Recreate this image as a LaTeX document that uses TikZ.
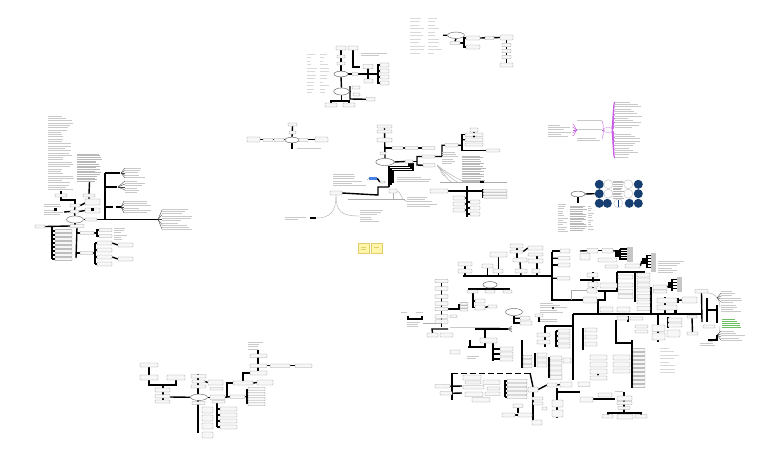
\documentclass[tikz,border=0pt]{standalone}
\usetikzlibrary{fit,shapes.geometric}
\pgfdeclarelayer{back}
\pgfdeclarelayer{lines}
\pgfsetlayers{back,lines,main}
\definecolor{pk}{RGB}{200,90,230}
\definecolor{nv}{RGB}{22,62,112}
\definecolor{bl}{RGB}{70,130,230}
\definecolor{yl}{RGB}{255,246,170}
\definecolor{yd}{RGB}{225,205,110}
\definecolor{gr}{RGB}{110,190,100}
\tikzset{
  bx/.style={draw=gray!75, fill=gray!6, line width=0.35pt, rounded corners=0.6pt, inner sep=0pt},
  el/.style={ellipse, draw=gray!80!black, fill=white, line width=0.45pt, inner sep=0pt},
  ln/.style={line width=1.4pt, black},
  tn/.style={line width=0.4pt, gray!65},
  fn/.style={line width=0.35pt, black!75},
  pkl/.style={line width=0.45pt, pk},
  cc/.style={circle, inner sep=0pt, minimum size=9pt},
}
\pgfmathsetseed{7}
\newcommand\mkbox[5]{\node[bx,fit={(#2,#3)(#4,#5)}] (#1) {};}
\newcommand\mklines[8]{\node[inner sep=0pt,fit={(#2,#3)(#4,#5)},path picture={\foreach \i in {1,#7,...,90}{\draw[#6,line width=0.5pt] ([yshift=-\i pt]path picture bounding box.north west) -- ++({(#4-#2)*(#8+(1-#8)*rnd)},0);}}] (#1) {};}
\newcommand\mktext[5]{\mklines{#1}{#2}{#3}{#4}{#5}{gray!55}{2.7}{0.7}}
\newcommand\mklight[5]{\mklines{#1}{#2}{#3}{#4}{#5}{gray!42}{3.3}{0.45}}
\newcommand\mkfaint[5]{\mklines{#1}{#2}{#3}{#4}{#5}{gray!30}{4.5}{0.3}}
\newcommand\mkell[5]{\node[el,fit={(#2,#3)(#4,#5)}] (#1) {};}
\newcommand\mkc[6]{\node[inner sep=0pt,#6,fit={(#2,#3)(#4,#5)}] (#1) {};}
\begin{document}
\begin{tikzpicture}[x=1pt,y=-1pt]
\begin{pgfonlayer}{back}
\fill[white] (0,0) rectangle (768,456);
\end{pgfonlayer}
\useasboundingbox (0,0) rectangle (768,456);

% ================= Cluster A (left) =================
\mklight{a1}{48}{115}{74}{191}
\mktext{a2}{77}{153}{102}{182}
\mkbox{a3}{55}{194}{67}{197}
\mkbox{a4}{83}{194}{95}{197}
\mkell{a0}{69}{217}{81}{222}
\mkbox{a5}{70}{204}{80}{207}
\mkbox{a6}{70}{210}{79}{213}
\mklight{a7}{44}{203}{64}{207}
\mklight{a8}{44}{209}{64}{215}
\mkbox{a9}{85}{199}{100}{205}
\mkbox{a10}{85}{208}{100}{213}
\mkbox{a11}{85}{218}{97}{221}
\mklight{a12}{162}{208}{193}{231}
\mklight{a13}{125}{167}{151}{178}
\mklight{a14}{125}{180}{150}{192}
\mklight{a15}{124}{200}{153}{214}
\mkbox{a16}{35}{225}{45}{228}
\mkbox{a28}{70}{224.5}{84}{227.5}
\foreach \k/\yy in {1/231,2/235,3/239,4/243,5/247,6/251,7/255,8/259}{\mkbox{a17-\k}{55}{\yy-1.6}{72}{\yy+1.6}}
\mkbox{a19}{80}{231.5}{94}{234.5}
\mkbox{a20}{99}{228.5}{112}{231.5}
\mkbox{a21}{99}{234.5}{112}{237.5}
\mklight{a22}{114}{227}{128}{232}
\mklight{a23}{114}{234}{128}{239}
\mkbox{a24}{80}{251.5}{93}{254.5}
\foreach \k/\yy in {1/243,2/250,3/257,4/264}{\mkbox{a25-\k}{97}{\yy-2}{112}{\yy+2}}
\mkbox{a26}{118}{243}{133}{247}
\mkbox{a27}{118}{257}{133}{261}
\fill (54,208) rectangle (56.5,210.5);
\fill (91,208) rectangle (93.5,210.5);
\begin{pgfonlayer}{lines}
\draw[ln] (a1.south) -- (a3.north);
\draw[ln] (a2.south) -- (a4.north);
\draw[ln] (a3.south) -- ++(0,3) -| (a5.north);
\draw[ln] (a4.south) -- ++(0,4) -- (a5.east);
\draw[ln] (a5.south) -- (a6.north);
\draw[ln] (a6.south) -- (a0.north);
\draw[ln] (a8.east) -- (a6.west);
\draw[ln] (a6.east) -- (a10.west);
\draw[ln] (a0.east) -- (a11.west);
\draw[ln] (a11.east) -- (158,219.5);
\foreach \yy in {210,214.5,219.5,224.5,229} \draw[fn] (158,219.5) -- (162,\yy);
\draw[ln] (105,173) -- (105,219.5);
\draw[ln] (105,173) -- (120,173);
\draw[ln] (105,187) -- (117,187);
\draw[ln] (105,207) -- (113,207);
\draw[ln] (116,207) -- (121,207);
\foreach \yy in {168,170.5,173,175.5,178} \draw[fn] (121,173) -- (125,\yy);
\foreach \yy in {181,184,187,190} \draw[fn] (118,187) -- (125,\yy);
\foreach \yy in {201,204,207,210,213} \draw[fn] (121,207) -- (124,\yy);
\draw[ln] (a0.south) -- (75,226);
\draw[ln] (a16.east) -- (a28.west);
\draw[ln] (52,226) -- (52,259);
\foreach \yy in {231,235,239,243,247,251,255,259} \draw[ln] (52,\yy) -- (55,\yy);
\draw[ln] (a28.south) -- (76,258);
\draw[ln] (76,233) -- (a19.west);
\draw[ln] (a19.east) -- (97,233);
\draw[ln] (99,230) -| (97,236) -- (99,236);
\draw[ln] (76,253) -- (a24.west);
\draw[ln] (a24.east) -- (95,253);
\draw[ln] (95,243) -- (95,264);
\foreach \yy in {243,250,257,264} \draw[ln] (95,\yy) -- (97,\yy);
\draw[ln] (a25-1.east) -- (a26.west);
\draw[ln] (a25-3.east) -- (a27.west);
\end{pgfonlayer}

% ================= Cluster B (top centre) =================
\mkbox{b1}{336}{46}{346}{50}
\mkbox{b2}{348}{46}{358}{50}
\mkell{b0}{336}{72}{346}{76}
\mkbox{b3}{337}{55}{345}{58}
\mkbox{b4}{337}{62}{345}{65}
\mklight{b5}{361}{52}{392}{56}
\mkfaint{b6}{307}{53}{318}{93}
\mkfaint{b7}{320}{53}{330}{93}
\mkbox{b8}{352}{72.5}{358}{75.5}
\mkbox{b9}{363}{64.5}{373}{68.5}
\mkbox{b10}{364}{79}{373}{83}
\foreach \k/\yy in {1/65,2/71,3/77,4/83}{\mkbox{b11-\k}{380}{\yy-2}{389}{\yy+2}}
\mkell{b12}{336}{89}{347}{94}
\mkbox{b13}{352}{86}{360}{89}
\mkbox{b14}{353}{93}{360}{96}
\mkbox{b15}{366}{97.5}{375}{101}
\mkbox{b16}{325}{103}{337}{107}
\mkbox{b17}{343}{103}{355}{107}
\begin{pgfonlayer}{lines}
\draw[ln] (b1.south) -- (b0.north);
\draw[ln] (b2.south) |- (360,67);
\draw[ln] (b0.east) -- (368,74) -- (378,74);
\draw[ln] (368,67) -- (368,82);
\draw[ln] (378,64) -- (378,84);
\foreach \yy in {65,71,77,83} \draw[ln] (378,\yy) -- (380,\yy);
\draw[ln] (b0.south) -- (b12.north);
\draw[ln] (b12.east) -- (350,91.5);
\draw[ln] (350,86) -- (350,99) -- (b15.west);
\draw[ln] (b12.south) -- (341.5,101);
\draw[ln] (331,103) |- (349,101) -- (349,103);
\end{pgfonlayer}

% ================= Cluster C (top right) =================
\mkfaint{c1}{410}{17}{426}{53}
\mkfaint{c2}{428}{17}{442}{53}
\mkell{c0}{450}{33}{462}{37.5}
\mkbox{c3}{450}{41.5}{460}{44.5}
\mkbox{c4}{466}{36}{480}{40}
\mkbox{c5}{466}{45}{480}{49}
\mkbox{c6}{485}{36.5}{494}{39.5}
\mkbox{c7}{500}{35}{513}{40}
\foreach \k/\yy in {1/45,2/51,3/57}{\mkbox{c8-\k}{502}{\yy-1.8}{511}{\yy+1.8}}
\mkbox{c9}{500}{63}{513}{67}
\begin{pgfonlayer}{lines}
\draw[ln] (443,35.2) -- (c0.west);
\draw[ln] (c0.south) -- (c3.north);
\draw[ln] (c3.east) -- (464,43);
\draw[ln] (c4.west) -| (464,47) -- (c5.west);
\draw[ln] (c4.east) -- (c7.west);
\draw[ln] (c7.south) -- (c9.north);
\end{pgfonlayer}

% ================= Cluster D =================
\mkbox{d1}{288}{123}{297}{126}
\mkbox{d2}{289}{131}{296}{134}
\mkbox{d3}{247}{137}{260}{142}
\mkbox{d4}{263}{138.5}{273}{141.5}
\mkbox{d5}{274}{138.5}{284}{141.5}
\mkell{d0}{287}{138}{297}{142}
\mkbox{d6}{299}{138.5}{308}{141.5}
\mkbox{d7}{315}{137}{328}{142}
\mklight{d8}{297}{147}{322}{149}
\begin{pgfonlayer}{lines}
\draw[ln] (d1.south) -- (d0.north);
\draw[ln] (d0.south) -- ++(0,6);
\draw[ln] (d3.east) -- (d7.west);
\end{pgfonlayer}

% ================= Cluster E (centre) =================
\mkbox{e1}{377}{125}{392}{128}
\mkbox{e2}{377}{130}{392}{133}
\mkbox{e3}{377}{138}{392}{142}
\mkbox{e4}{380}{152}{386}{154.5}
\mkbox{e5}{392}{146.5}{403}{149.5}
\mkbox{e6}{405}{146.5}{418}{149.5}
\mkbox{e7}{422}{146.5}{435}{149.5}
\mkell{e0}{378.5}{159.5}{391.5}{164.5}
\mkbox{e8}{405}{160}{413}{163}
\mkbox{e9}{422}{155}{435}{158}
\mkbox{e10}{423}{163.5}{435}{167}
\mkbox{e11}{445}{143.5}{458}{147}
\mkbox{e12}{470}{128}{478}{132}
\mkbox{e13}{465}{133}{483}{136.5}
\mkbox{e14}{465}{138}{483}{141.5}
\mkbox{e15}{465}{143}{483}{146}
\mkbox{e16}{486}{149}{500}{152}
\mktext{e17}{462}{155}{487}{181}
\mklight{e18}{442}{151}{460}{163}
\mklight{e19}{333}{173}{367}{187}
\mkc{e20}{369}{176.5}{377}{180}{fill=bl}
\mkbox{e21}{380}{181}{385}{183}
\mklight{e22}{397}{176}{435}{183}
\mkbox{e23}{389}{189}{397}{193}
\mklight{e24}{407}{196}{437}{207}
\mkbox{e25}{330}{191}{342}{195}
\mklight{e26}{285}{216}{309}{220}
\mklight{e27}{360}{209}{383}{223}
\mkbox{e28}{430}{189}{448}{193}
\foreach \k/\yy in {1/190.8,2/193.8,3/196.8}{\mkbox{e29-\k}{483}{\yy-1.3}{507}{\yy+1.3}}
\foreach \k/\yy in {1/198,2/204,3/210}{\mkbox{e30-\k}{453}{\yy-2}{465}{\yy+2}}
\foreach \k/\yy in {1/202,2/208,3/214}{\mkbox{e31-\k}{470}{\yy-2}{480}{\yy+2}}
\fill (474,136.5) circle (1.2);
\begin{pgfonlayer}{lines}
\draw[ln] (e1.south) -- (e0.north);
\draw[ln] (385,148) -- (e7.west);
\draw[ln] (e0.east) -- (e8.west);
\draw[ln] (e8.east) -- (417,161.5);
\draw[ln] (e9.west) -| (417,165) -- (e10.west);
\draw[ln] (e9.east) -- (442,156.5) -- (442,145.3) -- (e11.west);
\draw[ln] (e11.east) -- (462,145.3);
\draw[ln] (e13.west) -| (462,150.5) -- (e16.west);
\draw[ln] (462,139.7) -- (e14.west);
\draw[ln] (e12.south) -- (e13.north);
\draw[ln] (409,163) -- (409,166.5) -- (389,166.5) -- (389,187);
\draw[ln] (411,163) -- (411,168.5) -- (391,168.5) -- (391,185);
\draw[ln] (413,163) -- (413,170.5) -- (393,170.5) -- (393,183);
\draw[ln] (389,187) -- (378,187) -- (378,195) -- (e25.east);
\draw[tn] (e19.east) -- (e20.west);
\draw[ln] (e20.east) -- (e21.west);
\draw[tn] (e23.south) -- (393,200);
\draw[tn] (348,199.5) -- (405,199.5);
\draw[tn] (e23.east) .. controls (401,191) and (401,201) .. (e24.west);
\draw[tn] (e25.south) .. controls (336,212) and (330,218) .. (316,218);
\draw[ln] (316,218) -- (310,218);
\draw[tn] (e25.south) .. controls (336,212) and (342,216) .. (e27.west);
\foreach \xx/\yy in {445/176,452/182,460/183,468/183} \draw[tn] (437,165) .. controls (442,170) and (\xx-4,\yy) .. (\xx,\yy);
\draw[tn] (440,182) -- (507,182);
\draw[ln] (480,182) -- (484,182);
\draw[ln] (e28.east) -- (483,191);
\draw[ln] (467,186) -- (467,217);
\foreach \yy in {198,204,210} \draw[ln] (465,\yy) -- (467,\yy);
\foreach \yy in {202,208,214} \draw[ln] (467,\yy) -- (470,\yy);
\draw[ln] (483,189) -- (483,198);
\end{pgfonlayer}

% ================= yellow notes =================
\mkc{y1}{358}{243}{369}{253}{fill=yl,draw=yd,line width=0.4pt}
\mkc{y2}{371}{243}{382}{253}{fill=yl,draw=yd,line width=0.4pt}
\draw[yd,line width=0.8pt] (361,247) -- (366,247) (361,249.5) -- (366,249.5) (374,247.5) -- (379,247.5);

% ================= Cluster F (pink) =================
\mklight{f1}{548}{124}{572}{136}
\mklight{f2}{577}{119.5}{602}{122}
\mklight{f3}{577}{128.5}{602}{131}
\mklight{f4}{577}{137}{602}{140}
\node[draw=pk!60, fill=white, ellipse, inner sep=0pt, line width=0.4pt, fit={(605,128)(611,132)}] (f0) {};
\mklight{f5}{615}{101}{642}{128}
\mklight{f6}{615}{133}{642}{158}
\begin{pgfonlayer}{lines}
\foreach \yy in {121,130,138.5} \draw[pkl] (f0.west) .. controls (603,130) and (603.5,\yy) .. (602,\yy);
\foreach \yy in {124,127,130,133,136} \draw[pkl] (577,130) .. controls (575,130) and (575,\yy) .. (572.5,\yy);
\foreach \yy in {102,106,110,114,118,122,126,134,138,142,146,150,154,158} \draw[pkl] (f0.east) .. controls (613.5,130) and (612.5,\yy) .. (615,\yy);
\draw[pk,line width=1pt] (611,130) .. controls (613.5,130) and (612.5,102) .. (615,102);
\draw[pk,line width=1pt] (611,130) .. controls (613.5,130) and (612.5,158) .. (615,158);
\end{pgfonlayer}

% ================= Cluster G (blue circles) =================
\mkell{g0}{573}{192}{583}{196}
\mklight{g1}{558}{203}{568}{232}
\mktext{g2}{570}{205}{587}{230}
\mklight{g4}{588}{205}{594}{230}
\mktext{g3}{613}{180}{624}{198}
\node[cc,fill=nv] (g11) at (599.3,184.3) {};
\node[cc,draw=gray!50,fill=white] (g12) at (608.3,184.3) {};
\node[cc,draw=gray!50,fill=white] (g14) at (628.3,184.3) {};
\node[cc,fill=nv] (g15) at (638.3,184.3) {};
\node[cc,fill=nv] (g21) at (599.3,193.7) {};
\node[cc,draw=gray!50,fill=white] (g22) at (608.3,193.7) {};
\node[cc,draw=gray!50,fill=white] (g24) at (628.3,193.7) {};
\node[cc,fill=nv] (g25) at (638.3,193.7) {};
\node[cc,fill=nv] (g31) at (599.3,203.3) {};
\node[cc,fill=nv] (g32) at (607.3,203.3) {};
\node[cc,draw=gray!50,fill=white] (g33) at (618.3,203.3) {};
\node[cc,fill=nv] (g34) at (629.3,203.3) {};
\node[cc,fill=nv] (g35) at (638.3,203.3) {};
\fill[nv] (617.5,200) rectangle (619.1,206.6);
\begin{pgfonlayer}{lines}
\draw[ln] (g0.east) -- (g21.west);
\draw[ln] (g0.south) -- (578,203);
\end{pgfonlayer}

% ================= Cluster H (bottom left) =================
\mkbox{h1}{140}{363}{158}{367}
\mkbox{h2}{140}{375}{158}{380}
\mkbox{h3}{167}{375}{185}{380}
\mkbox{h4}{155}{388}{170}{392}
\mkbox{h5}{155}{394.5}{170}{398}
\mkbox{h6}{155}{400}{170}{403}
\mkell{h0}{193}{395}{205}{399.5}
\mkbox{h7}{191}{374.5}{206}{378}
\mkbox{h8}{192}{380}{205}{383}
\mkbox{h9}{191}{385}{206}{388}
\mkbox{h10}{192}{401.5}{205}{404.5}
\mkbox{h11}{208}{380}{223}{385}
\mkbox{h12}{210}{387.5}{223}{390}
\foreach \k/\yy in {1/410,2/418,3/426,4/435}{\mkbox{h13-\k}{202}{\yy-3}{213}{\yy+3}}
\mkbox{h14}{210}{395}{225}{399.5}
\mkbox{h15}{212}{400.5}{225}{403}
\foreach \k/\yy in {1/409,2/415,3/421,4/427}{\mkbox{h16-\k}{220}{\yy-2}{237}{\yy+2}}
\mkbox{h17}{230}{395}{245}{398.5}
\foreach \k/\yy in {1/389,2/394,3/399,4/404}{\mkbox{h18-\k}{248}{\yy-1.8}{265}{\yy+1.8}}
\mkbox{h19}{233}{381}{253}{385}
\mkbox{h20}{257}{380}{273}{385}
\mkbox{h21}{250}{371}{267}{375}
\mklight{h22}{248}{341}{267}{350}
\mkbox{h23}{250}{354}{267}{357.5}
\mkbox{h24}{250}{364}{267}{367.5}
\mkbox{h25}{270}{364}{290}{367.5}
\mkbox{h26}{295}{364}{312}{367.5}
\begin{pgfonlayer}{lines}
\draw[ln] (h1.south) -- (h2.north);
\draw[ln] (h2.south) -- ++(0,5) -| (h3.south);
\draw[ln] (163,385) -- (163,403);
\draw[ln] (170,397) -- (h0.west);
\draw[ln] (198,374) -- (198,433);
\draw[ln] (h8.east) -- (h11.west);
\draw[ln] (h0.east) -- (h14.west);
\draw[ln] (h14.east) -- (h17.west);
\draw[ln] (217,403) -- (217,427);
\foreach \yy in {409,415,421,427} \draw[ln] (217,\yy) -- (220,\yy);
\draw[ln] (h17.east) -- (247,396.7);
\draw[ln] (247,389) -- (247,404);
\draw[ln] (227,397) -- (227,383) -- (h19.west);
\draw[ln] (h19.east) -- (h20.west);
\draw[ln] (243,381) -- (243,373) -- (h21.west);
\draw[ln] (258,350) -- (258,371);
\draw[ln] (h24.east) -- (h25.west);
\draw[ln] (h25.east) -- (h26.west);
\end{pgfonlayer}

% ================= Cluster I (bottom right) =================
\mkbox{i1}{560}{249}{570}{253}
\mkbox{i2}{558}{256.5}{570}{260}
\mkbox{i3}{558}{263}{570}{267}
\mkbox{i4}{557}{276.5}{570}{280}
\mkbox{i5}{458}{262}{472}{266}
\mkbox{i6}{458}{269}{472}{273}
\mkbox{i7}{490}{252}{507}{257}
\mkbox{i8}{482}{264}{493}{268}
\mkbox{i9}{493}{269}{503}{273}
\mkbox{i10}{510}{244}{523}{248}
\mkbox{i11}{510}{250}{523}{253}
\mkbox{i12}{513}{258}{527}{262}
\mkbox{i13}{515}{269}{527}{273}
\mkbox{i14}{528}{246}{543}{250}
\mkbox{i15}{528}{253}{543}{256}
\mkbox{i16}{528}{259}{543}{263}
\mkbox{i17}{532}{269}{540}{273}
\mkbox{i18}{583}{297}{597}{303}
\mklight{i19}{540}{302}{567}{312}
\fill (553,308) circle (1.2);
\foreach \k/\yy in {1/281,2/288.5,3/296.5,4/303.5,5/309,6/316.5,7/321.5}{\mkbox{i20-\k}{435}{\yy-1.8}{448}{\yy+1.8}}
\foreach \k/\yy in {1/303.8,2/306.8,3/309.8}{\mkbox{i21-\k}{460}{\yy-1.2}{468}{\yy+1.2}}
\mkbox{i22}{450}{315}{457}{317.5}
\mklight{i23}{407}{321}{423}{327}
\mklight{i24}{401}{311}{412}{313}
\mklight{i25}{416}{311}{426}{313}
\mkbox{i26}{427}{333}{438}{337}
\mkbox{i27}{440}{333}{453}{337}
\mklight{i28}{450}{326.5}{512}{328}
\mkell{i30}{485}{282.5}{495}{287}
\mkbox{i31}{467}{290}{478}{293}
\mkbox{i32}{485}{290}{495}{293}
\mkbox{i33}{503}{290}{512}{293}
\mkbox{i34}{475}{299}{485}{303}
\mkbox{i35}{475}{305}{485}{310}
\mkbox{i36}{488}{305}{497}{308}
\mkell{i40}{508}{309.5}{520}{314.5}
\mkbox{i41}{520}{316.5}{530}{320}
\mkbox{i42}{520}{321}{532}{325}
\mkbox{i43}{535}{314}{543}{317}
\mklight{i44}{540}{318}{560}{322}
\mkbox{i45}{480}{338}{497}{343}
\mkbox{i46}{450}{350}{460}{354}
\foreach \k/\yy in {1/349,2/354,3/359}{\mkbox{i47-\k}{500}{\yy-2}{513}{\yy+2}}
\mklight{i50}{467}{355}{483}{358}
\foreach \k/\yy in {1/357,2/361.5,3/366}{\mkbox{i51-\k}{523}{\yy-1.8}{532}{\yy+1.8}}
\foreach \k/\yy in {1/355,2/360,3/365}{\mkbox{i52-\k}{537}{\yy-2}{547}{\yy+2}}
\foreach \k/\yy in {1/358,2/363,3/368,4/373,5/377.5}{\mkbox{i53-\k}{550}{\yy-2}{562}{\yy+2}}
\mkbox{i54}{537}{333}{550}{337}
\mkbox{i55}{537}{340}{550}{344}
\foreach \k/\yy in {1/331,2/336,3/341,4/346}{\mkbox{i56-\k}{558}{\yy-2}{570}{\yy+2}}
\mkbox{i57}{563}{358}{571}{363}
\mkbox{i60}{435}{384.5}{450}{388}
\mkbox{i61}{440}{391.5}{452}{395}
\mkbox{i62}{463}{375}{481}{380}
\mkbox{i63}{465}{381}{481}{384}
\mkbox{i64}{463}{385.5}{484}{389}
\mkbox{i65}{465}{392}{483}{396.5}
\mkbox{i66}{472}{397.5}{490}{402}
\mkbox{i67}{483}{380}{500}{384.5}
\mkbox{i68}{487}{387}{500}{390}
\mkbox{i69}{485}{392}{500}{395.5}
\foreach \k/\yy in {1/381,2/385,3/389,4/393,5/397}{\mkbox{i70-\k}{507}{\yy-1.7}{527}{\yy+1.7}}
\mkbox{i71}{528}{387}{538}{392}
\mkbox{i72}{547}{383}{557}{387}
\mkbox{i73}{560}{382}{572}{387}
\mkbox{i74}{532}{397}{543}{400}
\mkbox{i75}{533}{402}{543}{405}
\mkbox{i76}{542}{407}{547}{410}
\mkbox{i77}{532}{420}{542}{425}
\mkbox{i78}{552}{400}{563}{407}
\mkbox{i79}{552}{410}{563}{417}
\mkbox{i80}{502}{413}{515}{417}
\mkbox{i81}{518}{413}{532}{417}
\mkbox{i83}{513}{404}{523}{407.5}
\mkbox{i90}{587}{248.5}{598}{253}
\mkbox{i91}{602}{248.5}{613}{253}
\mkc{i92}{627}{247}{633}{262}{fill=gray!45}
\mkc{i93}{651}{253}{656}{272}{fill=gray!45}
\mklight{i94}{658}{260}{685}{272}
\mkbox{i95}{625}{264}{640}{268}
\mkc{i96}{677}{277}{682}{292}{fill=gray!45}
\mkbox{i97}{580}{253.5}{590}{260}
\mkbox{i98}{598}{258}{617}{262}
\mkbox{i99}{605}{265}{618}{268}
\mkbox{i100}{587}{273}{598}{277}
\mkbox{i101}{588}{282}{598}{287}
\mkbox{i102}{587}{288}{597}{293}
\mkbox{i103}{600}{283}{617}{288}
\foreach \k/\yy in {1/277,2/285,3/291.5,4/296.5}{\mkbox{i104-\k}{618}{\yy-2}{633}{\yy+2}}
\foreach \k/\yy in {1/275,2/280,3/285,4/290,5/296.5,6/302,7/308.5}{\mkbox{i105-\k}{637}{\yy-2}{650}{\yy+2}}
\mkbox{i106}{653}{285}{667}{289.5}
\mkbox{i107}{653}{290}{667}{293}
\mkbox{i108}{600}{307}{613}{312}
\mkbox{i109}{617}{307}{630}{312}
\mkbox{i111}{657}{298}{677}{303}
\mkbox{i112}{657}{305}{677}{310}
\mkbox{i113}{682}{297}{697}{303}
\mkbox{i114}{687}{315.5}{697}{318}
\mkbox{i115}{687}{332}{698}{335}
\mkbox{i116}{695}{289.5}{708}{293}
\mklight{i117}{721}{290}{746}{312}
\mklines{i118}{722}{318}{743}{328}{gr}{3}{0.5}
\mklight{i119}{721}{330}{746}{340}
\mkbox{i120}{703}{325}{715}{328}
\mklight{i121}{700}{342}{720}{345}
\mkbox{i122}{652}{325}{665}{331.5}
\mkbox{i123}{652}{333}{665}{340}
\mkbox{i124}{668}{318}{682}{322}
\mkbox{i125}{668}{323}{682}{327}
\mkbox{i126}{667}{330}{680}{337}
\mkbox{i127}{617}{316}{628}{320}
\mkbox{i128}{630}{317}{643}{320}
\mkbox{i129}{635}{325}{648}{328}
\mkbox{i130}{635}{330}{648}{333}
\foreach \k/\yy in {1/350,2/354,3/358,4/362,5/366,6/370,7/374,8/378,9/382,10/386}{\mkbox{i131-\k}{633}{\yy-1.6}{645}{\yy+1.6}}
\mkbox{i132}{613}{355}{630}{360}
\mkbox{i133}{613}{362}{630}{367}
\mkbox{i134}{613}{369}{630}{373}
\mkbox{i135}{585}{328}{597}{332}
\mkbox{i136}{585}{335}{597}{339}
\mkbox{i137}{585}{342}{597}{346}
\mkbox{i138}{590}{355}{607}{360}
\mkbox{i139}{590}{362}{607}{367}
\mkbox{i140}{590}{369}{607}{374}
\mkbox{i141}{590}{376}{607}{380}
\mkbox{i142}{578}{382}{590}{386.5}
\mkbox{i143}{580}{397}{593}{402}
\mkbox{i144}{598}{393}{612}{397}
\mkbox{i145}{617}{396}{632}{400.5}
\mkbox{i146}{617}{401.5}{632}{404.5}
\mkbox{i147}{618}{406.5}{630}{409.5}
\mkbox{i148}{602}{414.5}{613}{418}
\mkbox{i149}{617}{414.5}{633}{419}
\mkbox{i150}{635}{414.5}{647}{418}
\mklight{i151}{615}{390.5}{633}{392}
\mkfaint{i152}{660}{347}{680}{372}
\fill (615,250) rectangle (620,256.5);
\fill (642,258) rectangle (647,264);
\fill (668,282) rectangle (672,288);
\fill (674,310) rectangle (676.5,312.5);
\fill (598,374.5) circle (1);
\begin{pgfonlayer}{lines}
% top
\draw[ln] (463,276) -- (552,276);
\draw[ln] (552,252) -- (552,300) -- (i18.west);
\draw[ln] (552,251) -- (i1.west);
\draw[ln] (552,258.2) -- (i2.west);
\draw[ln] (552,265) -- (i3.west);
\draw[ln] (552,278.2) -- (i4.west);
\draw[ln] (i5.south) -- (465,276);
\draw[ln] (i7.south) -- (498.5,276);
\draw[ln] (i8.south) -- (487.5,276);
\draw[ln] (517,248) -- (517,258);
\draw[ln] (i12.south) -- (521,276);
\draw[ln] (537,256) -- (537,276);
\draw[ln] (i14.west) -- (i11.east);
\draw[tn] (571,300) -- (571,290) -- (605,290);
% left column
\draw[ln] (441.5,279) -- (441.5,327);
\draw[ln] (448,309) -- (459,309);
\draw[ln] (459,303.8) -- (459,309.8);
\draw[ln] (408,316) -- (408,319) -- (422,319) -- (422,316);
\draw[tn] (423,323) -- (441,323);
\draw[ln] (i26.north) -- (432,329) -- (448,329);
% ellipse cluster
\draw[ln] (i30.south) -- (490,289);
\draw[ln] (468,289) -- (510,289);
\draw[ln] (473,293) -- (473,307.5) -- (i35.west);
\draw[ln] (473,301) -- (i34.west);
\draw[ln] (i35.east) -- (i36.west);
\draw[ln] (i40.south) -- (514,323) -- (i42.west);
\draw[ln] (514,318.2) -- (i41.west);
\draw[ln] (539,317) -- (539,322);
% middle
\draw[ln] (475,329) -- (508,329);
\foreach \yy in {326,328,330,332} \draw[fn] (508,329) -- (512,\yy);
\draw[ln] (485,329) -- (485,347) -- (468,347);
\draw[ln] (470,340) -- (470,347);
\draw[ln] (493,343) -- (493,361);
\foreach \yy in {349,354,359} \draw[ln] (493,\yy) -- (500,\yy);
\draw[ln] (522,340) -- (522,368);
\draw[ln] (535,353) -- (535,367);
\draw[ln] (549,357) -- (549,378);
\foreach \yy in {358,363,368,373,377.5} \draw[ln] (549,\yy) -- (550,\yy);
\draw[ln] (545,326) -- (545,347);
\draw[ln] (556,331) -- (556,347);
\foreach \yy in {331,336,341,346} \draw[ln] (556,\yy) -- (558,\yy);
\draw[ln] (573,314) -- (573,380);
\draw[ln] (573,326) -- (545,326);
\draw[ln] (573,314) -- (702,314);
% bottom left
\draw[line width=1pt, dash pattern=on 6pt off 3pt] (452,373) -- (530,373);
\draw[ln] (452,373) -- (452,400);
\draw[ln] (i60.east) -- (462,386);
\draw[ln] (i61.east) -- (462,393);
\draw[ln] (505,380) -- (505,397);
\foreach \yy in {381,385,389,393,397} \draw[ln] (505,\yy) -- (507,\yy);
\draw[ln] (530,373) -- (i71.north);
\draw[ln] (i71.east) -- (i72.west);
\draw[ln] (i72.east) -- (i73.west);
\draw[ln] (i71.south) -- (533,422);
\draw[ln] (533,403) -- (542,403);
\draw[ln] (557,388) -- (557,418);
\draw[ln] (557,392) -- (580,392);
\draw[ln] (i80.east) -- (i81.west);
\draw[ln] (i83.south) -- (518,413);
% right part
\draw[ln] (580,251) -- (i90.west);
\draw[ln] (i90.east) -- (i91.west);
\draw[ln] (i91.east) -- (615,251);
\draw[ln] (620,248.5) -- (620,260);
\foreach \yy in {249,251.5,254,256.5,259} \draw[ln] (620,\yy) -- (627,\yy);
\draw[ln] (647,255) -- (647,268);
\foreach \yy in {255.5,258.5,261.5,264.5,267.5} \draw[ln] (647,\yy) -- (651,\yy);
\draw[ln] (i95.east) -- (642,261);
\draw[ln] (672,279) -- (672,291);
\foreach \yy in {279.5,282.5,285.5,288.5} \draw[ln] (672,\yy) -- (677,\yy);
\draw[ln] (i106.east) -- (668,286);
\draw[ln] (593,272) -- (593,292);
\draw[ln] (580,280) -- (600,280);
\draw[ln] (617,272) -- (645,272);
\draw[ln] (635,272) -- (635,302);
\draw[ln] (651,287) -- (651,313);
\draw[ln] (598,314) -- (598,300) -- (605,300) -- (605,291);
\draw[ln] (598,291) -- (617,291) -- (617,272);
\draw[ln] (665,297) -- (665,314);
\draw[ln] (678,298) -- (678,303);
\draw[ln] (677,300.5) -- (i113.west);
\draw[ln] (i114.south) -- (i115.north);
\draw[ln] (i116.south) -- (702,322);
\draw[ln] (707,298) -- (707,322);
\draw[ln] (707,310) -- (717,310);
\draw[ln] (717,305) -- (717,323);
\draw[tn] (708,293) .. controls (716,293) and (720,300) .. (720,308);
\draw[tn] (708,342) .. controls (716,342) and (720,335) .. (720,326);
\foreach \yy in {293,296,299,302} \draw[fn] (717,298) -- (721,\yy);
\foreach \yy in {331,334,337,340} \draw[fn] (717,335) -- (721,\yy);
\draw[ln] (708,340) -- (718,340);
\draw[ln] (717,335) -- (717,340);
\draw[ln] (658,315) -- (658,342);
\draw[ln] (668,317) -- (668,328);
\draw[ln] (628,316) -- (628,322);
\draw[ln] (616,320) -- (616,343) -- (632,343);
\draw[ln] (632,340) -- (632,388);
\draw[ln] (583,328) -- (583,350);
\draw[ln] (593,399) -- (615,399);
\draw[ln] (624,392) -- (624,413);
\draw[ln] (608,415) -- (608,413) -- (641,413) -- (641,415);
\end{pgfonlayer}
\end{tikzpicture}
\end{document}
